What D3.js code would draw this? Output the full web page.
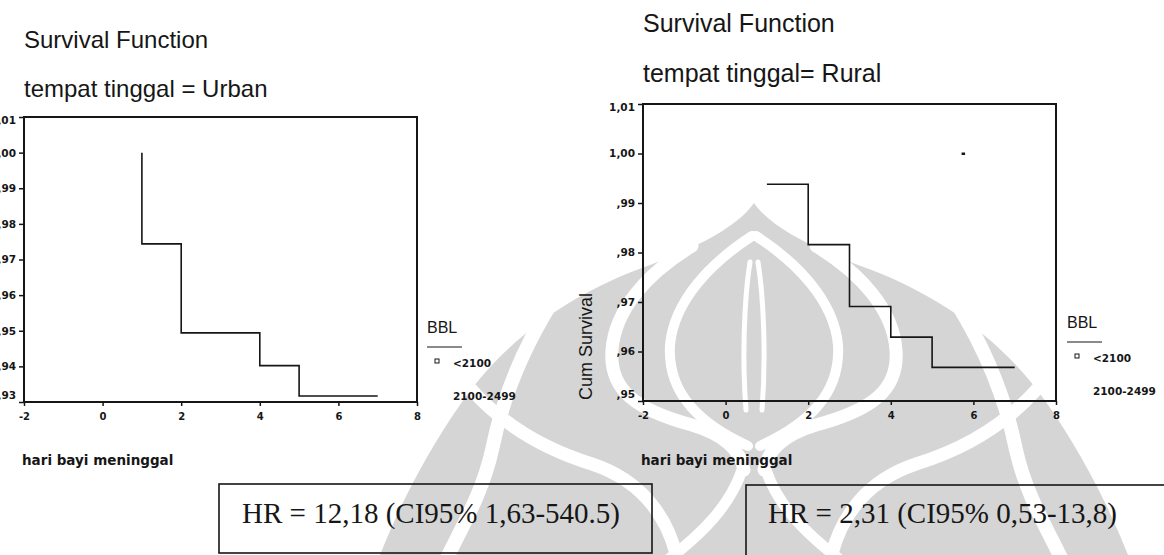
<!DOCTYPE html>
<html>
<head>
<meta charset="utf-8">
<script src="https://cdn.jsdelivr.net/npm/d3@7"></script>
<style>
  html, body { margin: 0; padding: 0; background: #fff; }
  svg { display: block; }
</style>
</head>
<body>
<svg id="chart" width="1164" height="555"></svg>
<script>
// ---- data ----
const xTicks = [-2, 0, 2, 4, 6, 8];
const xTickLabels = ["-2", "0", "2", "4", "6", "8"];

const urbanYTicks = [0.93, 0.94, 0.95, 0.96, 0.97, 0.98, 0.99, 1.00, 1.01];
const urbanYLabels = [",93", ",94", ",95", ",96", ",97", ",98", ",99", "1,00", "1,01"];
const ruralYTicks = [0.95, 0.96, 0.97, 0.98, 0.99, 1.00, 1.01];
const ruralYLabels = [",95", ",96", ",97", ",98", ",99", "1,00", "1,01"];

// Kaplan-Meier steps (day, cumulative survival)
const urbanDays = [1, 1, 2, 4, 5, 7];
const urbanSurvival = [1.00, 0.9744, 0.9494, 0.9402, 0.9317, 0.9317];
const ruralDays = [1, 2, 3, 4, 5, 7];
const ruralSurvival = [0.9938, 0.9816, 0.9691, 0.9629, 0.9568, 0.9568];
const ruralCensoredDays = [5.75];
const ruralCensoredSurvival = [1.00];

const mainTitle = "Survival Function";
const panelTitles = ["tempat tinggal = Urban", "tempat tinggal= Rural"];
const xAxisTitle = "hari bayi meninggal";
const yAxisTitle = "Cum Survival";
const legendTitle = "BBL";
const legendGroups = ["<2100", "2100-2499"];
const hazardRatios = ["HR = 12,18 (CI95% 1,63-540.5)", "HR = 2,31 (CI95% 0,53-13,8)"];

// ---- layout ----
const svg = d3.select("#chart");
const INK = "#161616";
const TICK_FONT = "'DejaVu Sans', sans-serif";

// faint emblem behind the charts (left half, mirrored about x = 754)
const wm = svg.append("g").attr("class", "emblem");
const half = (g) => {
  g.append("path")
    .attr("d", "M754,203 C738,226 700,246 650,265 C572,292 505,340 462,402 C425,455 400,505 380,555 L754,555 Z")
    .attr("fill", "#d5d5d5");
  const white = (d, w) => g.append("path").attr("d", d).attr("fill", "none")
    .attr("stroke", "#fff").attr("stroke-width", w).attr("stroke-linecap", "round");
  // outer band running down the side leaf
  white("M552,302 C522,350 502,400 492,450 C482,495 460,530 445,562", 14);
  // curl sweeping across the side leaf
  white("M470,388 C500,422 540,448 592,464 C640,480 668,515 678,562", 13);
  // outline of the dome
  white("M692,246 C646,274 615,310 612,350 C609,390 636,410 692,425 C722,434 740,448 744,470", 13);
  // outline around the pair of drops
  white("M752,236 C712,262 674,300 670,345 C667,395 702,425 748,446", 10);
  // inner edge of each drop, leaving the stem between them
  white("M750,262 C744,300 742,360 746,410", 5);
  // sweeping band beside the stalk
  white("M742,470 C730,505 705,532 660,566", 11);
};
half(wm.append("g"));
half(wm.append("g").attr("transform", "translate(1508,0) scale(-1,1)"));

const panels = [
  {
    title: panelTitles[0], days: urbanDays, surv: urbanSurvival,
    yTicks: urbanYTicks, yLabels: urbanYLabels,
    left: 24, right: 417, top: 117, bottom: 402, yDomain: [0.93, 1.01],
    titleSize: 24, titleY1: 48, titleY2: 97,
    legendX: 427, legendY: 333, hr: hazardRatios[0],
    box: { x: 219, y: 484, w: 433, h: 69 }, hrX: 242,
    censorDays: [], censorSurv: [], yTitle: false
  },
  {
    title: panelTitles[1], days: ruralDays, surv: ruralSurvival,
    yTicks: ruralYTicks, yLabels: ruralYLabels,
    left: 643, right: 1056, top: 104, bottom: 401, yDomain: [0.95, 1.01],
    titleSize: 25, titleY1: 32, titleY2: 82,
    legendX: 1067, legendY: 328, hr: hazardRatios[1],
    box: { x: 746, y: 485, w: 440, h: 90 }, hrX: 768,
    censorDays: ruralCensoredDays, censorSurv: ruralCensoredSurvival, yTitle: true
  }
];

panels.forEach(p => {
  const g = svg.append("g");
  const x = d3.scaleLinear().domain([-2, 8]).range([p.left, p.right]);
  const y = d3.scaleLinear().domain(p.yDomain).range([p.bottom, p.top]);

  // titles
  g.append("text").attr("x", p.left).attr("y", p.titleY1)
    .attr("font-family", "'Liberation Sans', Arial, sans-serif").attr("font-size", p.titleSize)
    .attr("fill", INK).text(mainTitle);
  g.append("text").attr("x", p.left).attr("y", p.titleY2)
    .attr("font-family", "'Liberation Sans', Arial, sans-serif").attr("font-size", p.titleSize)
    .attr("fill", INK).text(p.title);

  // y axis
  const yAxis = g.append("g").attr("transform", `translate(${p.left},0)`)
    .call(d3.axisLeft(y).tickValues(p.yTicks).tickSize(5).tickPadding(3)
      .tickFormat((d, i) => p.yLabels[i]));
  yAxis.select(".domain").remove();
  yAxis.selectAll("line").attr("stroke", INK).attr("stroke-width", 1.5);
  yAxis.selectAll("text")
    .attr("font-family", TICK_FONT).attr("font-weight", "bold").attr("font-size", 10.5)
    .attr("fill", INK)
    .attr("y", d => {
      const py = y(d);
      if (py - p.top < 4) return 3;
      if (p.bottom - py < 4) return -7;
      return 0;
    });

  // x axis
  const xAxis = g.append("g").attr("transform", `translate(0,${p.bottom})`)
    .call(d3.axisBottom(x).tickValues(xTicks).tickSize(4).tickPadding(7)
      .tickFormat((d, i) => xTickLabels[i]));
  xAxis.select(".domain").remove();
  xAxis.selectAll("line").attr("stroke", INK).attr("stroke-width", 1.5);
  xAxis.selectAll("text")
    .attr("font-family", TICK_FONT).attr("font-weight", "bold").attr("font-size", 10)
    .attr("fill", INK);

  // frame
  g.append("rect").attr("x", p.left).attr("y", p.top)
    .attr("width", p.right - p.left).attr("height", p.bottom - p.top)
    .attr("fill", "none").attr("stroke", INK).attr("stroke-width", 2);

  // survival step line
  const pts = p.days.map((d, i) => [d, p.surv[i]]);
  g.append("path").datum(pts)
    .attr("d", d3.line().x(d => x(d[0])).y(d => y(d[1])).curve(d3.curveStepAfter))
    .attr("fill", "none").attr("stroke", INK).attr("stroke-width", 1.6);

  // censored marks
  g.selectAll("rect.cens").data(p.censorDays.map((d, i) => [d, p.censorSurv[i]]))
    .join("rect").attr("class", "cens")
    .attr("x", d => x(d[0]) - 1.5).attr("y", d => y(d[1]) - 1)
    .attr("width", 3.5).attr("height", 2.5).attr("fill", INK);

  // axis titles
  g.append("text").attr("x", p.left - 2).attr("y", 465)
    .attr("font-family", TICK_FONT).attr("font-weight", "bold").attr("font-size", 13.5)
    .attr("fill", INK).text(xAxisTitle);
  if (p.yTitle) {
    g.append("text")
      .attr("transform", `translate(592,${p.bottom - 1}) rotate(-90)`)
      .attr("font-family", "'Liberation Sans', Arial, sans-serif").attr("font-size", 18)
      .attr("fill", INK).text(yAxisTitle);
  }

  // legend
  const lg = g.append("g");
  lg.append("text").attr("x", p.legendX).attr("y", p.legendY)
    .attr("font-family", "'Liberation Sans', Arial, sans-serif").attr("font-size", 16)
    .attr("fill", INK).text(legendTitle);
  lg.append("line").attr("x1", p.legendX).attr("x2", p.legendX + 35)
    .attr("y1", p.legendY + 14).attr("y2", p.legendY + 14)
    .attr("stroke", INK).attr("stroke-width", 1.2);
  lg.append("rect").attr("x", p.legendX + 8).attr("y", p.legendY + 26)
    .attr("width", 4).attr("height", 4)
    .attr("fill", "#fff").attr("stroke", INK).attr("stroke-width", 1);
  legendGroups.forEach((t, i) => {
    lg.append("text").attr("x", p.legendX + 26).attr("y", p.legendY + 30 + i * 33)
      .attr("dominant-baseline", "central")
      .attr("font-family", TICK_FONT).attr("font-weight", "bold").attr("font-size", 10.5)
      .attr("fill", INK).text(t);
  });

  // hazard ratio box
  g.append("rect").attr("x", p.box.x).attr("y", p.box.y)
    .attr("width", p.box.w).attr("height", p.box.h)
    .attr("fill", "none").attr("stroke", INK).attr("stroke-width", 1.6);
  g.append("text").attr("x", p.hrX).attr("y", 523)
    .attr("font-family", "'Liberation Serif', 'Times New Roman', serif").attr("font-size", 29)
    .attr("fill", INK).text(p.hr);
});
</script>
</body>
</html>
